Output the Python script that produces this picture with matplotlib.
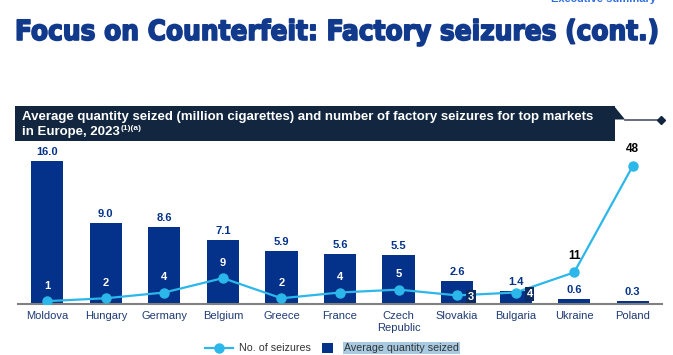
import matplotlib
matplotlib.use('Agg')
import matplotlib.pyplot as plt
import matplotlib.patheffects as pe
from matplotlib.patches import Rectangle, Polygon
from matplotlib.lines import Line2D

# Data
countries = ['Moldova', 'Hungary', 'Germany', 'Belgium', 'Greece', 'France',
             'Czech\nRepublic', 'Slovakia', 'Bulgaria', 'Ukraine', 'Poland']
avg_qty = [16.0, 9.0, 8.6, 7.1, 5.9, 5.6, 5.5, 2.6, 1.4, 0.6, 0.3]
seizures = [1, 2, 4, 9, 2, 4, 5, 3, 4, 11, 48]

NAVY = '#04328a'
LIGHT = '#2bb7ea'
BANNER = '#12263f'
TICK_COL = '#1f3b73'

W, H = 673, 355
fig = plt.figure(figsize=(6.73, 3.55), dpi=100)


def fx(px):
    return px / W


def fy(py):
    return 1 - py / H


# main axes (bars) and twin axes (line)
ax = fig.add_axes([fx(18), fy(304), 644 / W, (304 - 150) / H])
x = list(range(len(countries)))
ax.bar(x, avg_qty, width=0.55, color=NAVY, zorder=2)
ax.set_xlim(-0.5, 10.5)
ax.set_ylim(0, 154 / 8.95)
for s in ['top', 'right', 'left']:
    ax.spines[s].set_visible(False)
ax.spines['bottom'].set_color('#808080')
ax.spines['bottom'].set_linewidth(1.5)
ax.set_yticks([])
ax.set_xticks(x)
ax.set_xticklabels(countries, fontsize=8, color=TICK_COL, family='Liberation Sans')
ax.tick_params(axis='x', length=0, pad=5)

for xi, v in zip(x, avg_qty):
    ax.annotate(f'{v:.1f}', (xi, v), xytext=(0, 6.5), textcoords='offset points',
                ha='center', va='center', fontsize=8, fontweight='bold',
                color=NAVY, family='Liberation Sans')

ax2 = ax.twinx()
ax2.set_ylim(0, 154 / 2.875)
ax2.plot(x, seizures, color=LIGHT, lw=1.6, marker='o', markersize=6.5, zorder=3)
for s in ['top', 'right', 'left', 'bottom']:
    ax2.spines[s].set_visible(False)
ax2.set_yticks([])

for xi, v in zip(x, seizures):
    if countries[xi] in ('Slovakia', 'Bulgaria'):
        ax2.annotate(str(v), (xi, v), xytext=(10, -1), textcoords='offset points',
                     ha='center', va='center', fontsize=8, fontweight='bold',
                     color='white', family='Liberation Sans',
                     bbox=dict(facecolor='#0c2a5e', edgecolor='none', pad=1.2))
    elif v > 10:
        ax2.annotate(str(v), (xi, v), xytext=(0, 12), textcoords='offset points',
                     ha='center', va='center', fontsize=8.5, fontweight='bold',
                     color='black', family='Liberation Sans')
    else:
        ax2.annotate(str(v), (xi, v), xytext=(0, 11), textcoords='offset points',
                     ha='center', va='center', fontsize=8, fontweight='bold',
                     color='white', family='Liberation Sans')

# Title
title = fig.text(fx(15), fy(40), 'Focus on Counterfeit: Factory seizures (cont.)',
                 fontsize=30, fontweight='bold', color='#123a8c', va='baseline',
                 family=['Liberation Sans Narrow', 'DejaVu Sans'], fontstretch='condensed',
                 path_effects=[pe.withStroke(linewidth=1.2, foreground='#123a8c')])
fig.canvas.draw()
bb = title.get_window_extent()
title.set_fontsize(30 * 643 / bb.width)

fig.text(fx(656), fy(-1), 'Executive summary', fontsize=8, fontweight='bold',
         color='#2f6fdf', ha='right', va='center', family='Liberation Sans')

# Banner with tab and connector
fig.add_artist(Rectangle((fx(15), fy(141)), 600 / W, 35 / H, transform=fig.transFigure,
                         facecolor=BANNER, edgecolor='none'))
fig.add_artist(Polygon([(fx(614), fy(106)), (fx(625), fy(119.5)), (fx(614), fy(119.5))],
                       closed=True, transform=fig.transFigure, facecolor=BANNER,
                       edgecolor='none'))
fig.add_artist(Line2D([fx(625), fx(661)], [fy(119.5), fy(119.5)],
                      transform=fig.transFigure, color='#4a5566', lw=1.2))
fig.add_artist(Line2D([fx(661)], [fy(119.5)], transform=fig.transFigure, marker='D',
                      markersize=4, color=BANNER))
fig.text(fx(22), fy(117), 'Average quantity seized (million cigarettes) and number of '
         'factory seizures for top markets', fontsize=9.5, fontweight='bold',
         color='white', va='center', family='Liberation Sans')
t2 = fig.text(fx(22), fy(132), 'in Europe, 2023', fontsize=9.5, fontweight='bold',
              color='white', va='center', family='Liberation Sans')
fig.canvas.draw()
bb2 = t2.get_window_extent()
fig.text(bb2.x1 / W + 0.001, fy(128.5), '(1)(a)', fontsize=6, fontweight='bold',
         color='white', va='center', family='Liberation Sans')

# Legend
fig.add_artist(Line2D([fx(205), fx(233)], [fy(348), fy(348)], transform=fig.transFigure,
                      color=LIGHT, lw=1.6))
fig.add_artist(Line2D([fx(219)], [fy(348)], transform=fig.transFigure, marker='o',
                      markersize=6.5, color=LIGHT))
fig.text(fx(239), fy(348), 'No. of seizures', fontsize=7.7, color='#333333', va='center',
         family='Liberation Sans')
fig.add_artist(Rectangle((fx(322), fy(353)), 11 / W, 10 / H, transform=fig.transFigure,
                         facecolor=NAVY, edgecolor='none'))
fig.text(fx(344), fy(348), 'Average quantity seized', fontsize=7.7, color='#333333',
         va='center', family='Liberation Sans',
         bbox=dict(facecolor='#a8cbe3', edgecolor='none', pad=1))

fig.savefig('out.png', dpi=100)
